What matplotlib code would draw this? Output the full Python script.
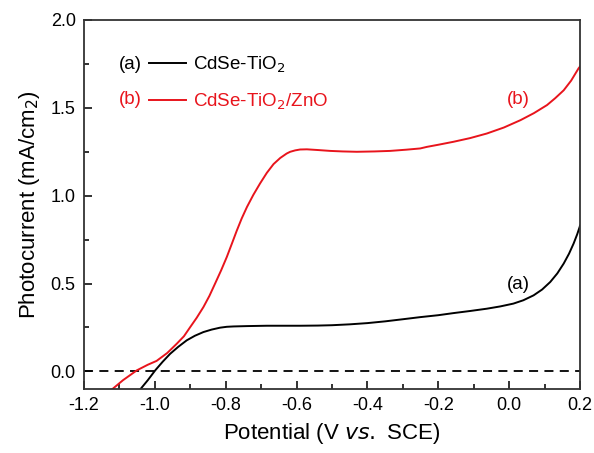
import numpy as np
import matplotlib.pyplot as plt
from matplotlib.ticker import MultipleLocator

plt.rcParams['font.family'] = ['Liberation Sans', 'DejaVu Sans']

# (b) CdSe-TiO2/ZnO
v_b = [-1.122, -1.09, -1.051, -1.02, -0.995, -0.965, -0.938, -0.918, -0.901,
       -0.882, -0.863, -0.846, -0.830, -0.813, -0.797, -0.783, -0.769, -0.755,
       -0.740, -0.722, -0.703, -0.684, -0.665, -0.646, -0.628, -0.618, -0.604,
       -0.590, -0.571, -0.54, -0.505, -0.47, -0.430, -0.38, -0.336, -0.29,
       -0.251, -0.232, -0.20, -0.157, -0.11, -0.063, -0.015, 0.032, 0.07,
       0.107, 0.13, 0.154, 0.175, 0.196, 0.2]
j_b = [-0.104, -0.05, 0.006, 0.038, 0.06, 0.105, 0.158, 0.20, 0.25,
       0.305, 0.366, 0.43, 0.50, 0.575, 0.651, 0.725, 0.80, 0.87,
       0.936, 1.005, 1.07, 1.13, 1.18, 1.215, 1.24, 1.25, 1.258,
       1.263, 1.264, 1.26, 1.255, 1.252, 1.25, 1.252, 1.255, 1.262,
       1.269, 1.278, 1.29, 1.307, 1.328, 1.354, 1.388, 1.43, 1.47,
       1.516, 1.555, 1.60, 1.655, 1.725, 1.735]

# (a) CdSe-TiO2
v_a = [-1.042, -1.02, -0.999, -0.978, -0.957, -0.934, -0.910, -0.887, -0.863,
       -0.840, -0.816, -0.797, -0.778, -0.74, -0.684, -0.63, -0.590, -0.54,
       -0.50, -0.45, -0.40, -0.35, -0.30, -0.251, -0.20, -0.157, -0.11,
       -0.063, -0.025, 0.012, 0.04, 0.069, 0.093, 0.116, 0.136, 0.154, 0.169,
       0.182, 0.192, 0.199, 0.2]
j_a = [-0.104, -0.05, 0.006, 0.055, 0.10, 0.14, 0.177, 0.203, 0.224,
       0.238, 0.249, 0.254, 0.256, 0.258, 0.26, 0.26, 0.26, 0.261,
       0.263, 0.268, 0.275, 0.285, 0.297, 0.309, 0.32, 0.332, 0.344,
       0.357, 0.37, 0.386, 0.405, 0.433, 0.466, 0.509, 0.558, 0.614, 0.67,
       0.728, 0.78, 0.822, 0.83]

fig = plt.figure(figsize=(5.94, 4.53), dpi=100)
ax = fig.add_axes([84 / 594, 1 - 389 / 453, 496 / 594, 369 / 453])

ax.axhline(0, color='black', lw=1.3, ls=(0, (5, 3.5)))
la, = ax.plot(v_a, j_a, color='black', lw=1.4)
lb, = ax.plot(v_b, j_b, color='#e8141c', lw=1.4)

ax.set_xlim(-1.2, 0.2)
ax.set_ylim(-0.1, 2.0)
ax.xaxis.set_major_locator(MultipleLocator(0.2))
ax.xaxis.set_minor_locator(MultipleLocator(0.1))
ax.yaxis.set_major_locator(MultipleLocator(0.5))
ax.yaxis.set_minor_locator(MultipleLocator(0.25))
ax.tick_params(which='both', direction='in', labelsize=13, width=1.3,
               color='#222222', pad=6)
ax.tick_params(which='major', length=6)
ax.tick_params(which='minor', length=3.5)
ax.set_xticks(np.arange(-1.2, 0.21, 0.2))
ax.set_xticklabels(['-1.2', '-1.0', '-0.8', '-0.6', '-0.4', '-0.2', '0.0', '0.2'])
ax.set_yticks([0.0, 0.5, 1.0, 1.5, 2.0])
ax.set_yticklabels(['0.0', '0.5', '1.0', '1.5', '2.0'])
ax.set_xlim(-1.2, 0.2)
ax.set_ylim(-0.1, 2.0)
for s in ax.spines.values():
    s.set_linewidth(1.3)
    s.set_color('#333333')

ax.set_xlabel('Potential (V $\\it{vs.}$ SCE)', fontsize=16, labelpad=5)
ax.set_ylabel('Photocurrent (mA/cm$_2$)', fontsize=16, labelpad=6)

leg = ax.legend([la, lb], ['CdSe-TiO$_2$', 'CdSe-TiO$_2$/ZnO'],
                loc='upper left', bbox_to_anchor=(0.131, 0.905), frameon=False,
                fontsize=13.5, handlelength=2.0, handletextpad=0.37,
                labelspacing=0.86, borderaxespad=0, borderpad=0)
for txt, c in zip(leg.get_texts(), ['black', '#e8141c']):
    txt.set_color(c)

ax.text(0.093, 0.879, '(a)', transform=ax.transAxes, fontsize=13.5,
        ha='center', va='center', color='black')
ax.text(0.093, 0.785, '(b)', transform=ax.transAxes, fontsize=13.5,
        ha='center', va='center', color='#e8141c')

ax.text(0.026, 1.55, '(b)', fontsize=13.5, ha='center', va='center', color='#e8141c')
ax.text(0.026, 0.495, '(a)', fontsize=13.5, ha='center', va='center', color='black')

fig.savefig('out.png', dpi=100)
